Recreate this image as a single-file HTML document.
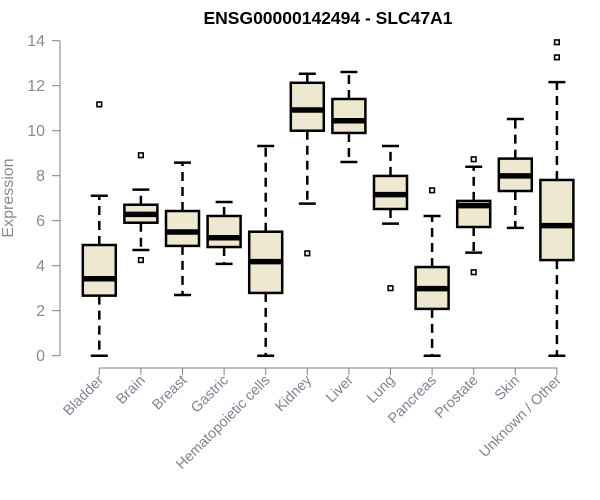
<!DOCTYPE html>
<html><head><meta charset="utf-8"><style>
body{margin:0;background:#fff;}
svg{display:block;font-family:"Liberation Sans",Arial,sans-serif;}
</style></head><body>
<svg id="chart" width="600" height="500" viewBox="0 0 600 500">
<text x="328" y="24" text-anchor="middle" font-size="17.5" font-weight="bold" fill="#000">ENSG00000142494 - SLC47A1</text>
<text transform="translate(13,198) rotate(-90)" text-anchor="middle" font-size="16" fill="#8a8a8a">Expression</text>
<g id="axes"></g>
<g id="marks"></g>
</svg>
<script>
const categories=["Bladder","Brain","Breast","Gastric","Hematopoietic cells","Kidney","Liver","Lung","Pancreas","Prostate","Skin","Unknown / Other"];
const whiskerLow=[0,4.70,2.70,4.08,0,6.76,8.61,5.87,0,4.58,5.68,0];
const q1=[2.67,5.91,4.88,4.83,2.79,10.0,9.9,6.52,2.08,5.72,7.32,4.25];
const medians=[3.42,6.28,5.50,5.24,4.18,10.92,10.44,7.16,2.98,6.67,7.99,5.78];
const q3=[4.92,6.71,6.43,6.21,5.51,12.13,11.41,7.99,3.94,6.88,8.76,7.81];
const whiskerHigh=[7.11,7.38,8.58,6.83,9.32,12.53,12.61,9.32,6.21,8.4,10.52,12.16];
const outliers=[[11.17],[8.91,4.25],[],[],[],[4.55],[],[3.0],[7.35],[8.73,3.71],[],[13.93,13.26]];
const yTicks=[0,2,4,6,8,10,12,14];

const NS="http://www.w3.org/2000/svg";
const y=v=>355.7-v*22.5;
const x=i=>99.3+i*41.6;
const axes=document.getElementById('axes'),marks=document.getElementById('marks');
function mk(tag,attrs,parent){const e=document.createElementNS(NS,tag);for(const k in attrs)e.setAttribute(k,attrs[k]);parent.appendChild(e);return e;}

let e=mk('line',{x1:60,x2:60,y1:y(0),y2:y(14),stroke:'#808080','stroke-width':1},axes);


yTicks.forEach(t=>{
 let l=mk('line',{x1:52,x2:60,y1:y(t),y2:y(t),stroke:'#808080'},axes);
 
 
 let tx=mk('text',{x:45,y:y(t)+5.5,'text-anchor':'end','font-size':16,fill:'#8a8a8a'},axes);
 tx.textContent=t;
 
 
});
e=mk('line',{x1:x(0),x2:x(categories.length-1),y1:368,y2:368,stroke:'#808080'},axes);


categories.forEach((c,i)=>{
 const cx=x(i);
 let l=mk('line',{x1:cx,x2:cx,y1:368,y2:375,stroke:'#808080'},axes);
 
 
 let tx=mk('text',{transform:`translate(${cx+5},381) rotate(-45)`,'text-anchor':'end','font-size':14.5,fill:'#7d8594'},axes);
 tx.textContent=c;
 
 
 const g=mk('g',{},marks);
 
 
 mk('line',{x1:cx,x2:cx,y1:y(q3[i]),y2:y(whiskerHigh[i]),stroke:'#000','stroke-width':2.5,'stroke-dasharray':'9,6'},g);
 mk('line',{x1:cx,x2:cx,y1:y(q1[i]),y2:y(whiskerLow[i]),stroke:'#000','stroke-width':2.5,'stroke-dasharray':'9,6'},g);
 mk('line',{x1:cx-8.5,x2:cx+8.5,y1:y(whiskerHigh[i]),y2:y(whiskerHigh[i]),stroke:'#000','stroke-width':2.5},g);
 mk('line',{x1:cx-8.5,x2:cx+8.5,y1:y(whiskerLow[i]),y2:y(whiskerLow[i]),stroke:'#000','stroke-width':2.5},g);
 mk('rect',{x:cx-16.5,y:y(q3[i]),width:33,height:y(q1[i])-y(q3[i]),fill:'#eee8d0',stroke:'#000','stroke-width':2.5},g);
 mk('line',{x1:cx-16.5,x2:cx+16.5,y1:y(medians[i]),y2:y(medians[i]),stroke:'#000','stroke-width':5.5},g);
 outliers[i].forEach(o=>{
  let r=mk('rect',{x:cx-2.3,y:y(o)-2.3,width:4.6,height:4.6,fill:'none',stroke:'#000','stroke-width':1.6},g);
  
  
 });
});
</script>
</body></html>
